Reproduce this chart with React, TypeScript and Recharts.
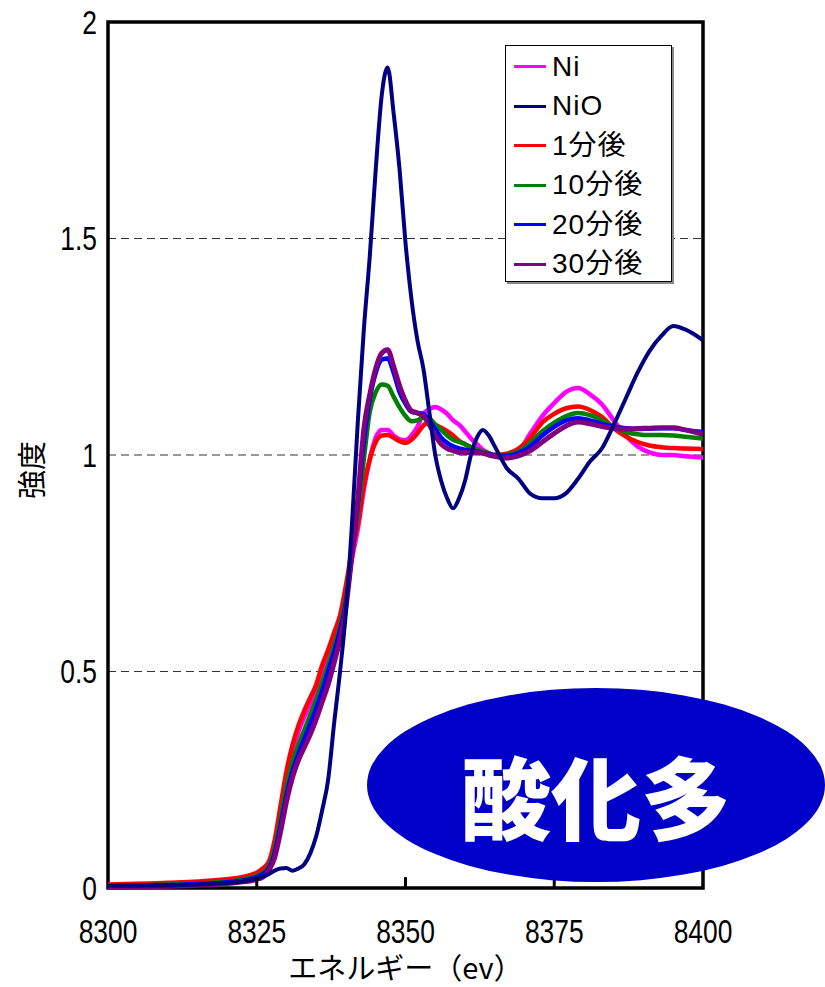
import React from 'react';
import { LineChart, Line, XAxis, YAxis, CartesianGrid, ReferenceArea, ReferenceLine } from 'recharts';

const energy = [8300, 8310, 8318, 8322, 8325, 8326, 8327, 8328, 8329, 8330, 8331, 8332, 8333, 8334, 8335, 8336, 8337, 8338, 8339, 8340, 8341, 8342, 8343, 8344, 8345, 8346, 8347, 8348, 8349, 8350, 8351, 8352, 8353, 8354, 8355, 8356, 8357, 8358, 8359, 8360, 8361, 8362, 8363, 8364, 8365, 8367, 8369, 8371, 8373, 8375, 8377, 8379, 8381, 8383, 8385, 8387, 8389, 8391, 8393, 8395, 8397, 8400];

const ni = [0.006, 0.01, 0.015, 0.021, 0.032, 0.04, 0.055, 0.1, 0.175, 0.255, 0.315, 0.36, 0.395, 0.425, 0.455, 0.5, 0.535, 0.575, 0.615, 0.68, 0.76, 0.83, 0.92, 0.99, 1.04, 1.058, 1.058, 1.045, 1.036, 1.034, 1.045, 1.065, 1.095, 1.106, 1.111, 1.105, 1.095, 1.08, 1.07, 1.055, 1.038, 1.025, 1.012, 1.004, 0.998, 1.0, 1.01, 1.05, 1.09, 1.12, 1.146, 1.155, 1.14, 1.117, 1.08, 1.045, 1.02, 1.006, 1.0, 1.0, 0.997, 0.994];

const nio = [0.005, 0.006, 0.01, 0.014, 0.022, 0.026, 0.032, 0.04, 0.045, 0.046, 0.04, 0.045, 0.055, 0.08, 0.12, 0.18, 0.25, 0.38, 0.5, 0.64, 0.84, 1.08, 1.29, 1.46, 1.66, 1.83, 1.895, 1.79, 1.66, 1.49, 1.36, 1.265, 1.2, 1.1, 1.0, 0.94, 0.9, 0.877, 0.9, 0.94, 1.0, 1.04, 1.058, 1.045, 1.02, 0.97, 0.945, 0.91, 0.9, 0.9, 0.912, 0.945, 0.985, 1.015, 1.07, 1.13, 1.19, 1.24, 1.275, 1.298, 1.29, 1.265];

const min1 = [0.008, 0.012, 0.018, 0.024, 0.035, 0.045, 0.06, 0.11, 0.19, 0.27, 0.33, 0.375, 0.41, 0.44, 0.47, 0.515, 0.55, 0.59, 0.63, 0.7, 0.78, 0.84, 0.93, 0.99, 1.03, 1.045, 1.046, 1.04, 1.032, 1.028, 1.035, 1.05, 1.068, 1.076, 1.07, 1.063, 1.055, 1.045, 1.033, 1.025, 1.018, 1.012, 1.007, 1.003, 1.0, 1.003, 1.015, 1.04, 1.075, 1.095, 1.108, 1.112, 1.104, 1.088, 1.062, 1.043, 1.03, 1.022, 1.018, 1.016, 1.015, 1.014];

const min10 = [0.005, 0.008, 0.013, 0.018, 0.028, 0.035, 0.05, 0.09, 0.16, 0.235, 0.29, 0.33, 0.365, 0.4, 0.435, 0.475, 0.515, 0.56, 0.605, 0.67, 0.77, 0.87, 0.99, 1.1, 1.145, 1.163, 1.16, 1.135, 1.11, 1.09, 1.078, 1.08, 1.088, 1.085, 1.07, 1.058, 1.045, 1.035, 1.03, 1.025, 1.018, 1.013, 1.008, 1.004, 1.0, 1.0, 1.008, 1.028, 1.055, 1.075, 1.09, 1.097, 1.092, 1.08, 1.064, 1.053, 1.048, 1.046, 1.046, 1.045, 1.042, 1.038];

const min20 = [0.004, 0.007, 0.011, 0.016, 0.025, 0.032, 0.045, 0.08, 0.145, 0.215, 0.27, 0.31, 0.345, 0.38, 0.415, 0.455, 0.5, 0.545, 0.595, 0.66, 0.77, 0.89, 1.03, 1.13, 1.19, 1.22, 1.223, 1.19, 1.145, 1.118, 1.1, 1.097, 1.095, 1.08, 1.06, 1.04, 1.028, 1.02, 1.015, 1.012, 1.01, 1.008, 1.005, 1.002, 1.0, 0.998, 1.005, 1.02, 1.045, 1.065, 1.08, 1.085, 1.08, 1.072, 1.066, 1.062, 1.06, 1.061, 1.062, 1.062, 1.058, 1.053];

const min30 = [0.002, 0.004, 0.008, 0.013, 0.02, 0.025, 0.04, 0.07, 0.13, 0.2, 0.255, 0.295, 0.325, 0.355, 0.39, 0.43, 0.47, 0.52, 0.575, 0.65, 0.77, 0.9, 1.06, 1.14, 1.2, 1.235, 1.243, 1.205, 1.16, 1.125, 1.102, 1.097, 1.09, 1.07, 1.045, 1.025, 1.015, 1.01, 1.006, 1.005, 1.006, 1.006, 1.004, 1.0, 0.997, 0.993, 0.998, 1.01, 1.03, 1.05, 1.067, 1.076, 1.072, 1.066, 1.062, 1.06, 1.061, 1.062, 1.063, 1.063, 1.058, 1.048];

const xTicks = [8300, 8325, 8350, 8375, 8400];
const yTicks = [0, 0.5, 1, 1.5, 2];

const seriesDefs = [
  { key: 'ni', name: 'Ni', color: '#FF00FF', width: 4.5 },
  { key: 'min1', name: '1分後', color: '#FF0000', width: 4.5 },
  { key: 'min10', name: '10分後', color: '#008000', width: 4.5 },
  { key: 'min20', name: '20分後', color: '#0000FF', width: 4.5 },
  { key: 'min30', name: '30分後', color: '#800080', width: 5 },
  { key: 'nio', name: 'NiO', color: '#000080', width: 4 },
];

const legendOrder = [
  { name: 'Ni', color: '#FF00FF' },
  { name: 'NiO', color: '#000080' },
  { name: '1分後', color: '#FF0000' },
  { name: '10分後', color: '#008000' },
  { name: '20分後', color: '#0000FF' },
  { name: '30分後', color: '#800080' },
];

const data = energy.map((e, i) => ({
  e,
  ni: ni[i],
  nio: nio[i],
  min1: min1[i],
  min10: min10[i],
  min20: min20[i],
  min30: min30[i],
}));

const tickFont = '"Liberation Sans", "DejaVu Sans", sans-serif';

const XTick = (props: any) => {
  const { x, y, payload } = props;
  return (
    <text
      transform={`translate(${x}, ${y}) scale(0.8, 1)`}
      textAnchor="middle"
      dominantBaseline="central"
      fontSize={33}
      fontFamily={tickFont}
      fill="#000"
    >
      {String(payload.value)}
    </text>
  );
};

const YTick = (props: any) => {
  const { x, y, payload } = props;
  return (
    <text
      transform={`translate(${x}, ${y}) scale(0.8, 1)`}
      textAnchor="end"
      dominantBaseline="central"
      fontSize={33}
      fontFamily={tickFont}
      fill="#000"
    >
      {String(payload.value)}
    </text>
  );
};

const LegendBox = () => (
  <div
    style={{
      position: 'absolute',
      left: 505,
      top: 45,
      width: 167,
      height: 237,
      border: '1px solid #000',
      background: '#fff',
      boxShadow: '2px 2px 0 #888',
      boxSizing: 'border-box',
      paddingTop: 1,
    }}
  >
    {legendOrder.map((s) => (
      <div key={s.name} style={{ display: 'flex', alignItems: 'center', height: 39.5 }}>
        <div style={{ width: 32, height: 3, background: s.color, marginLeft: 8, marginRight: 6 }} />
        <span
          style={{
            fontFamily: '"Liberation Sans", "Noto Sans CJK JP", sans-serif',
            fontSize: 28,
            color: '#000',
            letterSpacing: 1,
            lineHeight: 1,
          }}
        >
          {s.name}
        </span>
      </div>
    ))}
  </div>
);

export default function App() {
  return (
    <div style={{ position: 'absolute', left: 0, top: 0, width: 825, height: 987, background: '#fff' }}>
      <LineChart
        width={825}
        height={987}
        data={data}
        margin={{ top: 22, right: 122, bottom: 0, left: 0 }}
      >
        <CartesianGrid vertical={false} stroke="#333" strokeDasharray="8 5" strokeWidth={1} />
        <XAxis
          dataKey="e"
          type="number"
          domain={[8300, 8400]}
          ticks={xTicks}
          height={99}
          tickSize={0}
          tickLine={false}
          axisLine={false}
          tickMargin={43}
          tick={<XTick />}
          label={{
            content: (props: any) => {
              const vb = props.viewBox || { x: 108, width: 595 };
              const cx = vb.x + vb.width / 2;
              return (
                <text
                  x={cx}
                  y={966}
                  textAnchor="middle"
                  dominantBaseline="central"
                  fontSize={29}
                  fontFamily='"Noto Sans CJK JP", sans-serif'
                  fill="#000"
                >
                  エネルギー（ev）
                </text>
              );
            },
          }}
        />
        <YAxis
          type="number"
          domain={[0, 2]}
          ticks={yTicks}
          width={108}
          tickSize={0}
          tickLine={false}
          axisLine={false}
          tickMargin={11}
          tick={<YTick />}
          label={{
            content: (props: any) => {
              const vb = props.viewBox || { x: 0, y: 22, height: 866 };
              const cy = vb.y + vb.height / 2 + 15;
              return (
                <text
                  x={30}
                  y={cy}
                  transform={`rotate(-90, 30, ${cy})`}
                  textAnchor="middle"
                  dominantBaseline="central"
                  fontSize={29}
                  fontFamily='"Noto Sans CJK JP", sans-serif'
                  fill="#000"
                >
                  強度
                </text>
              );
            },
          }}
        />
        {seriesDefs.map((s) => (
          <Line
            key={s.key}
            type="monotone"
            dataKey={s.key}
            name={s.name}
            stroke={s.color}
            strokeWidth={s.width}
            dot={false}
            activeDot={false}
            isAnimationActive={false}
          />
        ))}
        <ReferenceArea x1={8300} x2={8400} y1={0} y2={2} fill="none" stroke="#000" strokeWidth={3.5} />
        {[8325, 8350, 8375].map((t) => (
          <ReferenceLine
            key={t}
            segment={[{ x: t, y: 0 }, { x: t, y: 0.025 }]}
            stroke="#000"
            strokeWidth={3}
          />
        ))}
      </LineChart>
      <LegendBox />
      <svg
        width={825}
        height={987}
        style={{ position: 'absolute', left: 0, top: 0, pointerEvents: 'none' }}
      >
        <ellipse cx={596} cy={785} rx={229} ry={97} fill="#0000C8" />
        <text
          x={596}
          y={794}
          textAnchor="middle"
          dominantBaseline="central"
          fontSize={90}
          fontWeight={900}
          fontFamily='"Noto Sans CJK JP", sans-serif'
          fill="#fff"
        >
          酸化多
        </text>
      </svg>
    </div>
  );
}
